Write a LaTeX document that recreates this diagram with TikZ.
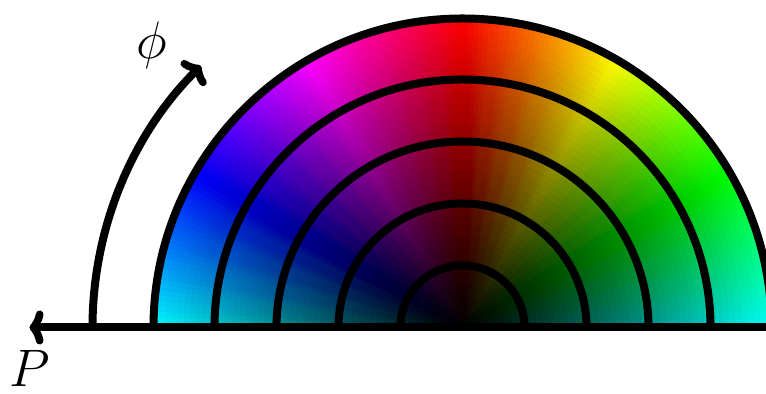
\documentclass[tikz,border=0pt]{standalone}
\usetikzlibrary{arrows.meta}
\begin{document}
\begin{tikzpicture}[x=0.5pt,y=0.5pt,
  ring/.style={line width=4pt, line cap=butt},
  axisline/.style={line width=4pt, -{Classical TikZ Rightarrow[length=7pt,width=17pt,line width=3.8pt]}},
  lbl/.style={font=\Huge, scale=1.06, inner sep=0pt}]
\useasboundingbox (0,0) rectangle (766,394);
\coordinate (O) at (462.5,66.5);
\begin{scope}[shift={(O)}]
  \begin{scope}
    \clip (312,0) arc[start angle=0,end angle=180,radius=312] -- cycle;
    \foreach \a in {0,...,179}{
      \pgfmathsetmacro\h{mod(539-2*\a,360)}
      \definecolor{wc}{Hsb}{\h,1,1}
      \fill[wc] (0,0) -- (\a:316) arc[start angle=\a,end angle=\a+1.6,radius=316] -- cycle;
    }
    \foreach \k in {50,49,...,1}{
      \pgfmathsetmacro\op{\k==50 ? 0.01 : 1/(\k+0.5)}
      \fill[black, fill opacity=\op] (0,0) circle[radius=\k*6.2];
    }
  \end{scope}
  \foreach \r in {62,124,186,248,309}
    \draw[ring] (\r,0) arc[start angle=0,end angle=180,radius=\r];
  \coordinate (Pr) at (330,0);
  \coordinate (Pl) at (-433,0);
  \coordinate (A0) at (-370,0);
  \draw[axisline] (Pr) -- (Pl);
  \draw[axisline] (A0) arc[start angle=180,end angle=135,radius=370];
\end{scope}
\node[lbl] (P) at (29.5,26) {$P$};
\node[lbl] (phi) at (151.5,348.5) {$\phi$};
\end{tikzpicture}
\end{document}
